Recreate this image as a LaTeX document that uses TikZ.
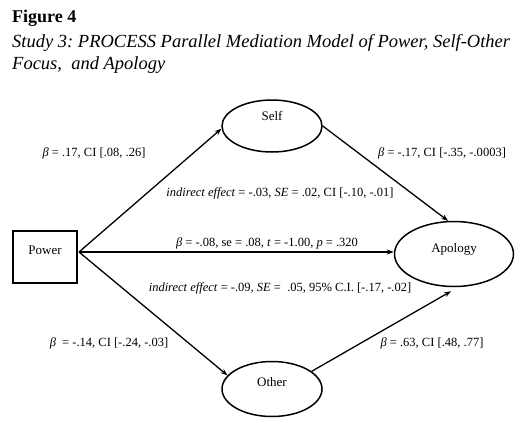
\documentclass[tikz,border=0pt]{standalone}
\usepackage{fontspec}
\setmainfont{Liberation Serif}
\usetikzlibrary{shapes.geometric,arrows.meta}
\frenchspacing
\begin{document}
\begin{tikzpicture}[x=1pt,y=-1pt,
  shapeline/.style={draw,line width=1.5pt},
  oval/.style={shapeline,ellipse,inner sep=0pt},
  boxnode/.style={shapeline,rectangle,inner sep=0pt,minimum width=64pt,minimum height=52pt},
  nodetext/.style={font=\fontsize{13}{15}\selectfont,inner sep=0pt},
  lab/.style={font=\fontsize{12.5}{14}\selectfont,inner sep=0pt},
  titlefont/.style={anchor=base west,inner sep=0pt,font=\fontsize{18}{20}\selectfont},
  conn/.style={line width=1.3pt,-{Stealth[length=7pt,width=5pt]}},
]
\useasboundingbox (0,0) rectangle (527,439);

% title
\node[titlefont,font=\bfseries\fontsize{18}{20}\selectfont] (fig) at (12,23) {Figure 4};
\node[titlefont,font=\itshape\fontsize{18.5}{20}\selectfont] (cap1) at (12,47) {Study 3: PROCESS Parallel Mediation Model of Power, Self-Other};
\node[titlefont,font=\itshape\fontsize{18.5}{20}\selectfont] (cap2) at (12,69) {Focus,\ \ and Apology};

% shapes
\node[boxnode] (Power) at (45,257) {};
\node[oval,minimum width=100pt,minimum height=52pt] (Self) at (272,126) {};
\node[oval,minimum width=100pt,minimum height=55pt] (Other) at (272,389) {};
\node[oval,minimum width=119pt,minimum height=65pt] (Apology) at (454,254) {};

% shape texts
\node[nodetext] (PowerT) at (45,250) {Power};
\node[nodetext] (SelfT) at (272,116) {Self};
\node[nodetext] (OtherT) at (272,382) {Other};
\node[nodetext] (ApologyT) at (454,249) {Apology};

% connectors
\coordinate (pw) at (79,252);
\draw[conn] (pw) -- (Self.183);
\draw[conn] (pw) -- (Other.163);
\draw[conn] (pw) -- (Apology.west |- pw);
\draw[conn] (Self.east) -- (Apology.100);
\draw[conn] (Other.24) -- ([yshift=-4pt]Apology.265);

% labels
\node[lab] (l1) at (94,153) {\textit{β} = .17, CI [.08, .26]};
\node[lab] (l2) at (442,153) {\textit{β} = -.17, CI [-.35, -.0003]};
\node[lab] (l3) at (280,193) {\textit{indirect effect} = -.03, \textit{SE} = .02, CI [-.10, -.01]};
\node[lab] (l4) at (267,243) {\textit{β} = -.08, se = .08, \textit{t} = -1.00, \textit{p} = .320};
\node[lab] (l5) at (280,288) {\textit{indirect effect} = -.09, \textit{SE} = \ .05, 95\% C.I. [-.17, -.02]};
\node[lab] (l6) at (109,343) {\textit{β}\ \ = -.14, CI [-.24, -.03]};
\node[lab] (l7) at (432,343) {\textit{β} = .63, CI [.48, .77]};
\end{tikzpicture}
\end{document}
